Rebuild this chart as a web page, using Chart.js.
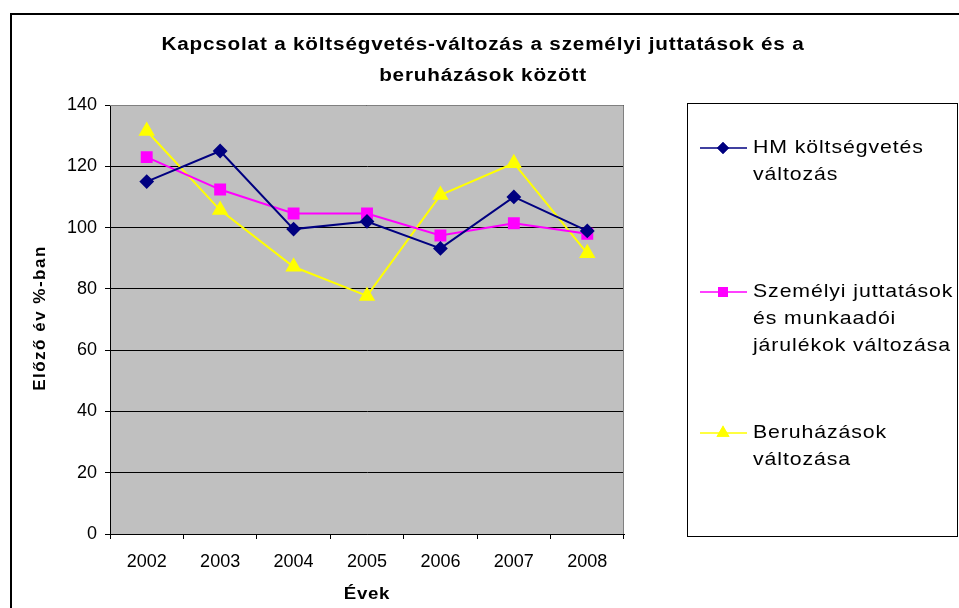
<!DOCTYPE html>
<html>
<head>
<meta charset="utf-8">
<script src="https://cdn.jsdelivr.net/npm/chart.js@4"></script>
<style>
  html, body { margin: 0; padding: 0; background: #fff; }
  #wrap { width: 959px; height: 608px; }
</style>
</head>
<body>
<div id="wrap"><canvas id="myChart" width="959" height="608"></canvas></div>
<script>
// data
const years = ['2002', '2003', '2004', '2005', '2006', '2007', '2008'];
const hmBudget = [115, 125, 99.5, 102, 93.2, 110, 98.9];
const personnel = [123, 112.4, 104.6, 104.6, 97.4, 101.4, 98];
const investment = [131.5, 105.7, 87.2, 77.7, 110.6, 121, 91.6];
const yTicks = [0, 20, 40, 60, 80, 100, 120, 140];

const titleLines = ['Kapcsolat a költségvetés-változás a személyi juttatások és a', 'beruházások között'];
const xTitle = 'Évek';
const yTitle = 'Előző év %-ban';
const legendLines = [
  ['HM költségvetés', 'változás'],
  ['Személyi juttatások', 'és munkaadói', 'járulékok változása'],
  ['Beruházások', 'változása']
];

const FONT = "'Liberation Sans', Arial, sans-serif";

// the original picture is a bit wider than tall, so text gets stretched
function wideText(ctx, text, x, y, sx, spacing) {
  ctx.save();
  ctx.translate(x, y);
  ctx.scale(sx, 1);
  ctx.letterSpacing = spacing + 'px';
  ctx.fillText(text, 0, 0);
  ctx.restore();
}

// gray plot area, borders, titles and a boxed legend like the Excel original
const excelLook = {
  id: 'excelLook',
  beforeDraw(chart) {
    const { ctx, chartArea: a } = chart;
    ctx.save();
    ctx.fillStyle = '#c0c0c0';
    ctx.fillRect(a.left, a.top, a.right - a.left, a.bottom - a.top);
    ctx.restore();
  },
  afterDraw(chart) {
    const { ctx, chartArea: a } = chart;
    ctx.save();
    // outer frame (only left and top are inside the picture)
    ctx.strokeStyle = '#000';
    ctx.lineWidth = 2;
    ctx.beginPath();
    ctx.moveTo(11, 620);
    ctx.lineTo(11, 14);
    ctx.lineTo(970, 14);
    ctx.stroke();

    // plot area top and right edge
    ctx.strokeStyle = '#808080';
    ctx.lineWidth = 1;
    ctx.beginPath();
    ctx.moveTo(a.left, a.top + 0.5);
    ctx.lineTo(a.right - 0.5, a.top + 0.5);
    ctx.lineTo(a.right - 0.5, a.bottom);
    ctx.stroke();

    // chart title
    ctx.fillStyle = '#000';
    ctx.font = 'bold 18px ' + FONT;
    ctx.textAlign = 'center';
    ctx.textBaseline = 'middle';
    wideText(ctx, titleLines[0], 483, 45, 1.15, 0.7);
    wideText(ctx, titleLines[1], 483, 76, 1.15, 0.7);

    // axis titles
    ctx.font = 'bold 17px ' + FONT;
    wideText(ctx, xTitle, (a.left + a.right) / 2, 594, 1.1, 0.6);
    ctx.save();
    ctx.translate(40, 318);
    ctx.rotate(-Math.PI / 2);
    ctx.letterSpacing = '1.5px';
    ctx.fillText(yTitle, 0, 0);
    ctx.restore();

    // legend box
    ctx.strokeStyle = '#000';
    ctx.lineWidth = 1;
    ctx.strokeRect(687.5, 103.5, 270, 433);

    const rows = [148, 292, 433];
    ctx.font = '19px ' + FONT;
    ctx.textAlign = 'left';
    chart.data.datasets.forEach((ds, i) => {
      const y = rows[i];
      ctx.strokeStyle = ds.borderColor;
      ctx.lineWidth = 1.5;
      ctx.beginPath();
      ctx.moveTo(700, y);
      ctx.lineTo(747, y);
      ctx.stroke();
      ctx.fillStyle = ds.pointBackgroundColor;
      Chart.helpers.drawPoint(ctx, {
        pointStyle: ds.pointStyle, radius: ds.pointRadius, rotation: 0, borderWidth: 0
      }, 723, y);
      ctx.fill();
      ctx.fillStyle = '#000';
      legendLines[i].forEach((t, j) => {
        wideText(ctx, t, 753, y + j * 27, 1.12, 0.8);
      });
    });
    ctx.restore();
  }
};

const ctx = document.getElementById('myChart').getContext('2d');
Chart.defaults.font.family = FONT;
Chart.defaults.color = '#000';

new Chart(ctx, {
  type: 'line',
  data: {
    labels: years,
    datasets: [
      {
        label: 'HM költségvetés változás',
        data: hmBudget,
        borderColor: '#000080',
        backgroundColor: '#000080',
        pointBackgroundColor: '#000080',
        pointBorderColor: '#000080',
        pointStyle: 'rectRot',
        pointRadius: 6,
        borderWidth: 2,
        tension: 0
      },
      {
        label: 'Személyi juttatások és munkaadói járulékok változása',
        data: personnel,
        borderColor: '#ff00ff',
        backgroundColor: '#ff00ff',
        pointBackgroundColor: '#ff00ff',
        pointBorderColor: '#ff00ff',
        pointStyle: 'rect',
        pointRadius: 7,
        borderWidth: 2,
        tension: 0
      },
      {
        label: 'Beruházások változása',
        data: investment,
        borderColor: '#ffff00',
        backgroundColor: '#ffff00',
        pointBackgroundColor: '#ffff00',
        pointBorderColor: '#ffff00',
        pointStyle: 'triangle',
        pointRadius: 7.5,
        borderWidth: 2,
        tension: 0
      }
    ]
  },
  options: {
    responsive: false,
    animation: false,
    layout: { padding: { left: 10, top: 105, right: 335, bottom: 0 } },
    plugins: {
      legend: { display: false },
      title: { display: false },
      tooltip: { enabled: false }
    },
    scales: {
      x: {
        offset: true,
        grid: { offset: true, drawOnChartArea: false, drawTicks: true, tickLength: 5, color: '#000' },
        border: { color: '#000', width: 1 },
        ticks: { font: { size: 18 }, padding: 12, maxRotation: 0 },
        afterFit(scale) { scale.height = 74; }
      },
      y: {
        min: 0,
        max: 140,
        afterBuildTicks(scale) { scale.ticks = yTicks.map(v => ({ value: v })); },
        grid: { color: '#000', lineWidth: 1, tickLength: 5 },
        border: { color: '#000', width: 1 },
        ticks: { font: { size: 18 }, padding: 8 },
        afterFit(scale) { scale.width = 100; }
      }
    }
  },
  plugins: [excelLook]
});
</script>
</body>
</html>
